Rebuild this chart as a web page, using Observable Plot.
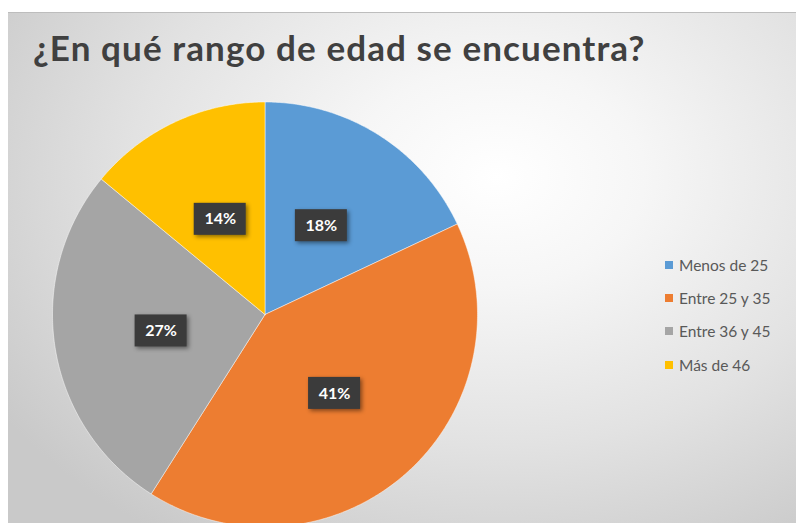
<!DOCTYPE html>
<html>
<head>
<meta charset="utf-8">
<script src="https://cdn.jsdelivr.net/npm/d3@7"></script>
<script src="https://cdn.jsdelivr.net/npm/@observablehq/plot@0.6"></script>
<style>
  html, body { margin: 0; padding: 0; background: #ffffff; }
  #wrap { position: relative; width: 796px; height: 523px; overflow: hidden; background: #fff; }
  #panel { position: absolute; left: 8px; top: 12px; width: 788px; height: 511px;
    border-top: 1px solid #bdbdbd;
    background: radial-gradient(ellipse 75% 85% at 62% 32%, #ffffff 0%, #f6f6f6 25%, #e2e2e2 62%, #c9c9c9 100%); }
  #title { position: absolute; left: 33px; top: 26px; font-family: Lato, sans-serif; font-weight: 700;
    font-size: 35px; letter-spacing: 1.1px; color: #404040; white-space: nowrap; }
  #chart { position: absolute; left: 0; top: 0; }
  #legend { position: absolute; left: 665px; top: 248px; font-family: Lato, sans-serif; font-size: 15.5px; color: #595959; }
  .item { height: 33.3px; display: flex; align-items: center; }
  .sw { width: 8px; height: 8px; margin-right: 6px; }
</style>
</head>
<body>
<div id="wrap">
  <div id="panel"></div>
  <div id="chart"></div>
  <div id="title"></div>
  <div id="legend"></div>
</div>
<script>
const titleText = "¿En qué rango de edad se encuentra?";
const categories = ["Menos de 25", "Entre 25 y 35", "Entre 36 y 45", "Más de 46"];
const values = [18, 41, 27, 14];
const labels = ["18%", "41%", "27%", "14%"];
const colors = ["#5B9BD5", "#ED7D31", "#A5A5A5", "#FFC000"];

document.getElementById("title").textContent = titleText;

const W = 796, H = 523;
const cx = 264.5, cy = 314, Rpx = 212.5;
// data units: radius 1
const xDomain = [-cx / Rpx, (W - cx) / Rpx];
const yDomain = [-(H - cy) / Rpx, cy / Rpx];

const arcs = d3.pie().sort(null).value(d => d.value)(categories.map((c, i) => ({cat: c, value: values[i], label: labels[i]})));

const polys = [];
arcs.forEach(a => {
  polys.push({cat: a.data.cat, x: 0, y: 0});
  const n = Math.max(2, Math.ceil((a.endAngle - a.startAngle) / 0.01));
  for (let k = 0; k <= n; k++) {
    const t = a.startAngle + (a.endAngle - a.startAngle) * k / n;
    polys.push({cat: a.data.cat, x: Math.sin(t), y: Math.cos(t)});
  }
  polys.push({cat: a.data.cat, x: 0, y: 0});
});

const lr = 0.495;
const boxW = 52 / Rpx, boxH = 32 / Rpx;
const labelData = arcs.map(a => {
  const m = (a.startAngle + a.endAngle) / 2;
  return {cat: a.data.cat, label: a.data.label, x: lr * Math.sin(m), y: lr * Math.cos(m)};
});

const plot = Plot.plot({
  width: W, height: H, margin: 0,
  style: {background: "transparent", overflow: "visible"},
  x: {domain: xDomain, axis: null},
  y: {domain: yDomain, axis: null},
  color: {domain: categories, range: colors},
  marks: [
    Plot.line(polys, {x: "x", y: "y", z: "cat", fill: "cat", stroke: "#ffffff", strokeWidth: 0.8, strokeOpacity: 0.6, curve: "linear"}),
    Plot.rect(labelData, {x1: d => d.x - boxW / 2, x2: d => d.x + boxW / 2, y1: d => d.y - boxH / 2, y2: d => d.y + boxH / 2, fill: "#3b3b3b"}),
    Plot.text(labelData, {x: "x", y: "y", text: "label", fill: "#ffffff", fontSize: 16, fontWeight: 700, fontFamily: "Lato, sans-serif"})
  ]
});
plot.querySelectorAll('g[aria-label="rect"] rect').forEach(r => r.style.filter = "drop-shadow(2px 2px 2px rgba(0,0,0,0.45))");
document.getElementById("chart").appendChild(plot);

const leg = document.getElementById("legend");
categories.forEach((c, i) => {
  const it = document.createElement("div"); it.className = "item";
  const sw = document.createElement("span"); sw.className = "sw"; sw.style.background = colors[i];
  const tx = document.createElement("span"); tx.textContent = c;
  it.appendChild(sw); it.appendChild(tx); leg.appendChild(it);
});
</script>
</body>
</html>
